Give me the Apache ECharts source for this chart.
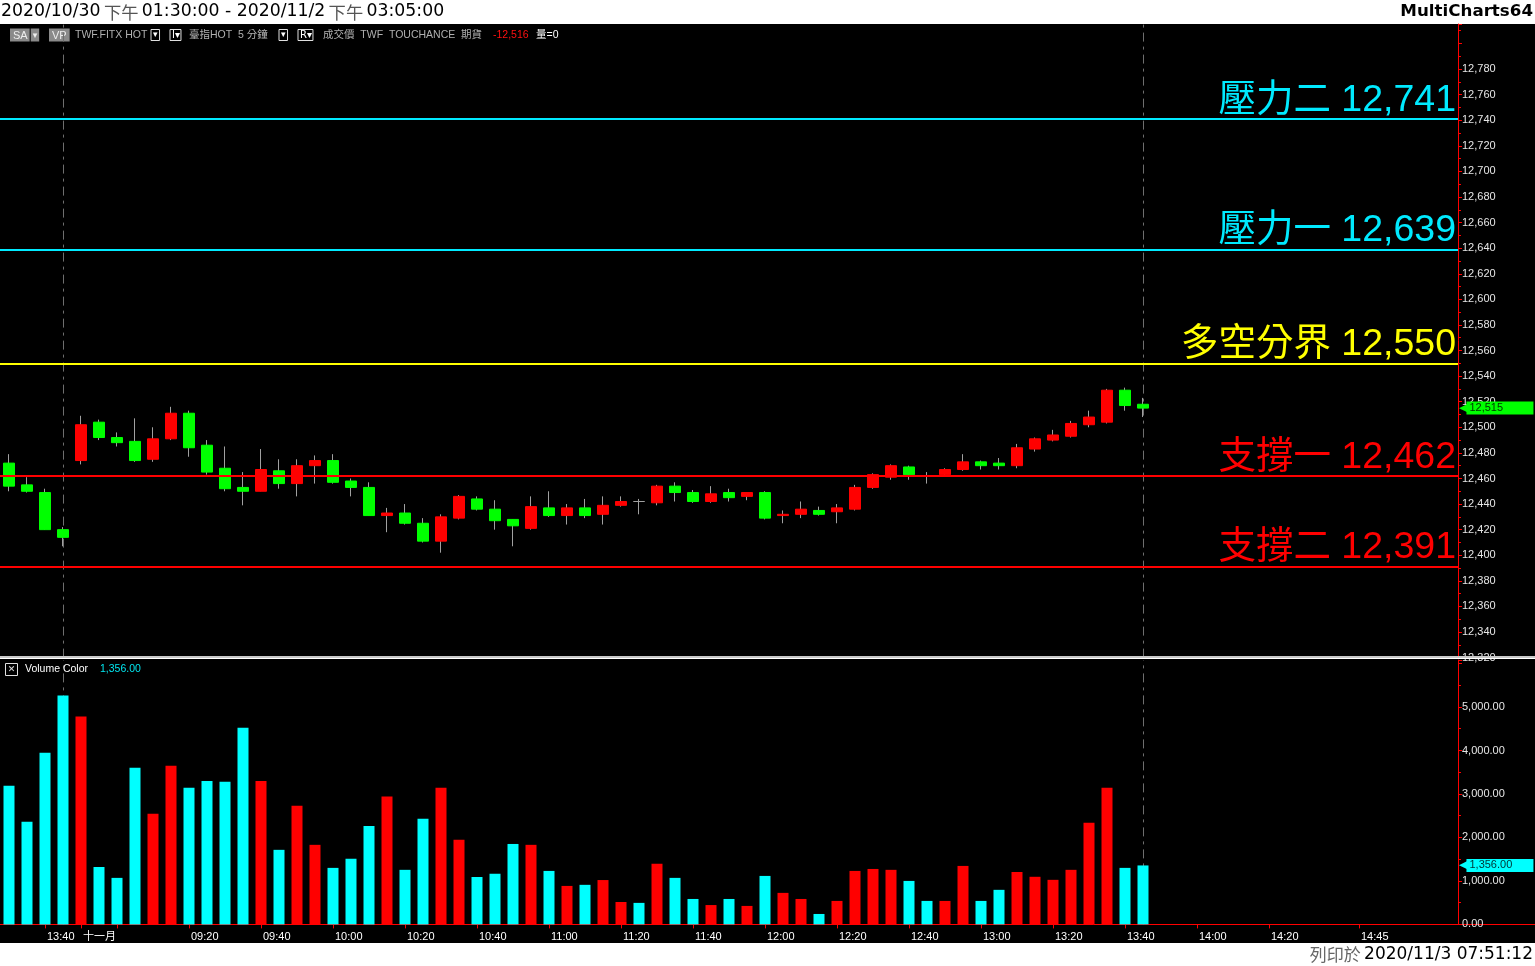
<!DOCTYPE html>
<html><head><meta charset="utf-8">
<script src="https://cdn.jsdelivr.net/npm/echarts@6/dist/echarts.min.js"></script>
<style>html,body{margin:0;padding:0;background:#000;overflow:hidden}#c{width:1535px;height:966px;}</style>
</head><body><div id="c"></div>
<script>
// ---------- data ----------
const categories = [
 '10/30 13:30','10/30 13:35','10/30 13:40','10/30 13:45',
 '11/2 08:50','11/2 08:55','11/2 09:00','11/2 09:05','11/2 09:10','11/2 09:15','11/2 09:20','11/2 09:25','11/2 09:30','11/2 09:35',
 '11/2 09:40','11/2 09:45','11/2 09:50','11/2 09:55','11/2 10:00','11/2 10:05','11/2 10:10','11/2 10:15','11/2 10:20','11/2 10:25',
 '11/2 10:30','11/2 10:35','11/2 10:40','11/2 10:45','11/2 10:50','11/2 10:55','11/2 11:00','11/2 11:05','11/2 11:10','11/2 11:15',
 '11/2 11:20','11/2 11:25','11/2 11:30','11/2 11:35','11/2 11:40','11/2 11:45','11/2 11:50','11/2 11:55','11/2 12:00','11/2 12:05',
 '11/2 12:10','11/2 12:15','11/2 12:20','11/2 12:25','11/2 12:30','11/2 12:35','11/2 12:40','11/2 12:45','11/2 12:50','11/2 12:55',
 '11/2 13:00','11/2 13:05','11/2 13:10','11/2 13:15','11/2 13:20','11/2 13:25','11/2 13:30','11/2 13:35','11/2 13:40','11/2 13:45',
 '11/2 13:50','11/2 13:55','11/2 14:00','11/2 14:05','11/2 14:10','11/2 14:15','11/2 14:20','11/2 14:25','11/2 14:30','11/2 14:35',
 '11/2 14:40','11/2 14:45','11/2 14:50','11/2 14:55','11/2 15:00','11/2 15:05','11/2 15:10'
];
const opens  = [12472,12455,12449,12420,12474,12504,12492,12489,12475,12491,12511,12486,12468,12453,12450,12466,12456,12470,12474,12458,12453,12431,12433,12425,12411,12429,12444,12436,12428,12421,12437,12431,12437,12432,12439,12442,12441,12454,12449,12442,12449,12446,12449,12431,12432,12435,12434,12436,12453,12461,12469,12462,12463,12467,12473,12472,12470,12483,12490,12493,12502,12504,12529,12518];
const highs  = [12479,12461,12452,12422,12509,12506,12496,12507,12500,12516,12513,12490,12485,12465,12483,12475,12475,12478,12479,12460,12457,12437,12440,12429,12432,12447,12446,12443,12428,12446,12450,12440,12444,12446,12446,12444,12455,12457,12451,12454,12452,12449,12450,12435,12442,12438,12440,12455,12464,12471,12470,12465,12468,12479,12474,12476,12487,12492,12498,12505,12513,12530,12531,12523];
const lows   = [12450,12449,12420,12407,12471,12490,12485,12473,12473,12490,12477,12463,12450,12439,12450,12452,12446,12456,12456,12446,12431,12418,12424,12410,12402,12428,12435,12420,12407,12420,12430,12424,12429,12424,12438,12432,12439,12442,12441,12441,12442,12443,12428,12425,12429,12431,12425,12435,12452,12459,12459,12456,12462,12466,12467,12467,12468,12481,12489,12492,12500,12503,12513,12508];
const closes = [12454,12450,12420,12414,12502,12492,12488,12474,12491,12511,12484,12465,12452,12450,12467,12456,12470,12474,12457,12453,12431,12433,12425,12411,12430,12446,12436,12427,12423,12438,12431,12437,12431,12439,12442,12442,12454,12449,12442,12448,12445,12449,12429,12432,12436,12432,12437,12453,12463,12470,12463,12462,12467,12473,12470,12470,12484,12491,12494,12503,12508,12529,12517,12515];
const volumes = [3190,2360,3950,5265,4780,1320,1070,3600,2545,3650,3140,3300,3280,4525,3300,1715,2730,1830,1300,1510,2265,2940,1255,2430,3145,1945,1090,1165,1850,1830,1230,885,910,1020,515,495,1395,1070,585,445,585,425,1115,725,585,240,540,1230,1275,1255,1000,540,540,1345,540,795,1205,1095,1025,1255,2335,3145,1300,1356];
const levelNames  = ['壓力二','壓力一','多空分界','支撐一','支撐二'];
const levelValues = [12741,12639,12550,12462,12391];
const sessionEndCats = ['10/30 13:45','11/2 13:45'];
const xLabelCats  = ['10/30 13:40','11/2 08:50','11/2 09:20','11/2 09:40','11/2 10:00','11/2 10:20','11/2 10:40','11/2 11:00','11/2 11:20','11/2 11:40','11/2 12:00','11/2 12:20','11/2 12:40','11/2 13:00','11/2 13:20','11/2 13:40','11/2 14:00','11/2 14:20','11/2 14:45'];
const xLabelTexts = ['13:40','十一月','09:20','09:40','10:00','10:20','10:40','11:00','11:20','11:40','12:00','12:20','12:40','13:00','13:20','13:40','14:00','14:20','14:45'];
const xTickOnlyCats = ['11/2 09:00'];
const priceTicks = {min:12320, max:12815.2, interval:20};
const volTicks = {min:0, max:6081, interval:1000};

// ---------- styles ----------
const UP='#ff0000', DOWN='#00ff00', DOJI='#a0a0a0', WICK='#a0a0a0', VUP='#ff0000', VDOWN='#00ffff';
const levelColors = ['#00eaff','#00eaff','#ffff00','#ff0000','#ff0000'];
const AX='#ff0000';
const FONT="'Liberation Sans','Noto Sans CJK TC',sans-serif";
const TFONT="'DejaVu Sans','Noto Sans CJK TC',sans-serif";
const fmt = v => v.toLocaleString('en-US');
const fmt2 = v => v.toLocaleString('en-US',{minimumFractionDigits:2,maximumFractionDigits:2});

const bodyData = opens.map((o,i)=>{
  const c = closes[i];
  const col = c>o?UP:(c<o?DOWN:DOJI);
  return {value:[o,c,Math.min(o,c),Math.max(o,c)], itemStyle:{color:col,color0:col,borderColor:col,borderColor0:col}};
});
const wickData = opens.map((o,i)=>[o,closes[i],lows[i],highs[i]]);
const volData = volumes.map((v,i)=>({value:v, itemStyle:{color: closes[i]>opens[i]?VUP:VDOWN}}));
const labelMap = {}; xLabelCats.forEach((c,i)=>labelMap[c]=xLabelTexts[i]);
const tickSet = new Set(xLabelCats.concat(xTickOnlyCats));
const lastPrice = closes[closes.length-1];
const lastVol = volumes[volumes.length-1];

const dashStyle = {color:'#6e6e6e', width:1, type:[9,5,3,5]};
const dashItems = () => sessionEndCats.map(c=>({xAxis:c, lineStyle:dashStyle, label:{show:false}}));
const hiddenLine = {color:'rgba(0,0,0,0)', width:1, opacity:1};

const levelLines = levelValues.map((v,i)=>({
  yAxis:v,
  lineStyle:{color:levelColors[i], width:2, type:'solid'},
  label:{show:true, position:'insideEndTop', distance:[2,0], formatter: levelNames[i]+' '+fmt(v),
    color:levelColors[i], fontSize:37.5, fontFamily:FONT, fontWeight:'normal'}
}));
const markerLabel = (text, col, txtCol) => ({show:true, position:'end', distance:1, formatter:'{a|◀}{b|'+text+'}',
    rich:{a:{color:col, fontSize:11, fontFamily:TFONT, padding:[0,-1,0,0]},
          b:{backgroundColor:col, color:txtCol, fontSize:11, fontFamily:FONT, width:64, height:13, lineHeight:13, padding:[0,0,0,3]}}});
const priceMarker = {yAxis:lastPrice, lineStyle:hiddenLine, label:markerLabel(fmt(lastPrice),'#00ff00','#003300')};
const volMarker = {yAxis:lastVol, lineStyle:hiddenLine, label:markerLabel(fmt2(lastVol),'#00ffff','#003333')};

const chart = echarts.init(document.getElementById('c'), null, {renderer:'canvas'});
const option = {
  backgroundColor:'#000',
  animation:false,
  grid:[
    {left:0, top:24, width:1458, height:633.6, containLabel:false},
    {left:0, top:660, width:1458, height:264.4, containLabel:false}
  ],
  xAxis:[
    {type:'category', gridIndex:0, data:categories, boundaryGap:true,
     axisLine:{show:false}, axisTick:{show:false}, axisLabel:{show:false}, splitLine:{show:false}},
    {type:'category', gridIndex:1, data:categories, boundaryGap:true,
     axisLine:{show:true, lineStyle:{color:AX, width:1}},
     axisTick:{show:true, alignWithLabel:true, length:4, lineStyle:{color:AX},
       interval:(idx,val)=>tickSet.has(val)},
     axisLabel:{show:true, color:'#ffffff', fontSize:11, fontFamily:FONT, margin:7, align:'left', padding:[0,0,0,2],
       interval:(idx,val)=>labelMap[val]!==undefined,
       formatter:(val)=>labelMap[val]||''},
     splitLine:{show:false}}
  ],
  yAxis:[
    {type:'value', gridIndex:0, position:'right', min:priceTicks.min, max:priceTicks.max, interval:priceTicks.interval,
     showMinLabel:false, showMaxLabel:false,
     axisLine:{show:true, lineStyle:{color:AX, width:1}},
     axisTick:{show:true, length:4, lineStyle:{color:AX}},
     minorTick:{show:true, splitNumber:2, length:3, lineStyle:{color:AX}},
     splitLine:{show:false}, minorSplitLine:{show:false},
     axisLabel:{color:'#e6e6e6', fontSize:11, fontFamily:FONT, margin:4,
       formatter:v=> v>12790 ? '' : fmt(v)}},
    {type:'value', gridIndex:1, position:'right', min:volTicks.min, max:volTicks.max, interval:volTicks.interval,
     showMaxLabel:false,
     axisLine:{show:true, lineStyle:{color:AX, width:1}},
     axisTick:{show:true, length:4, lineStyle:{color:AX}},
     minorTick:{show:true, splitNumber:2, length:3, lineStyle:{color:AX}},
     splitLine:{show:false},
     axisLabel:{color:'#e6e6e6', fontSize:11, fontFamily:FONT, margin:4,
       formatter:v=> v>5500 ? '' : fmt2(v)}}
  ],
  series:[
    {type:'candlestick', name:'wick', xAxisIndex:0, yAxisIndex:0, data:wickData, barWidth:1, z:2, silent:true,
     itemStyle:{color:WICK,color0:WICK,borderColor:WICK,borderColor0:WICK,borderWidth:1},
     markLine:{z:1, silent:true, symbol:'none', animation:false, data:dashItems()}},
    {type:'candlestick', name:'body', xAxisIndex:0, yAxisIndex:0, data:bodyData, barWidth:12, z:3,
     itemStyle:{borderWidth:1}, silent:true,
     markLine:{z:6, silent:true, symbol:'none', animation:false, data:levelLines.concat([priceMarker])}},
    {type:'bar', name:'vol', xAxisIndex:1, yAxisIndex:1, data:volData, barWidth:11, z:2, silent:true,
     markLine:{z:1, silent:true, symbol:'none', animation:false, data:dashItems().concat([volMarker])}}
  ],
  graphic:[
    {type:'rect', shape:{x:0,y:0,width:1535,height:24}, style:{fill:'#ffffff'}, silent:true},
    {type:'rect', shape:{x:0,y:943,width:1535,height:23}, style:{fill:'#ffffff'}, silent:true},
    {type:'rect', shape:{x:0,y:656,width:1535,height:2}, style:{fill:'#c8c8c8'}, silent:true, z:10},
    {type:'rect', shape:{x:0,y:658,width:1535,height:1}, style:{fill:'#ffffff'}, silent:true, z:10},
    {type:'line', shape:{x1:1458,y1:924.5,x2:1535,y2:924.5}, style:{stroke:AX, lineWidth:1}, silent:true},
    {type:'text', x:1, y:12, silent:true, style:{
      text:'{d|2020/10/30} {g|下午} {d|01:30:00 - 2020/11/2} {g|下午} {d|03:05:00}',
      verticalAlign:'middle', align:'left',
      rich:{d:{fontSize:17.3, fontFamily:TFONT, fill:'#000'}, g:{fontSize:17.3, fontFamily:"'Noto Sans CJK TC',sans-serif", fill:'#555'}}}},
    {type:'text', x:1533, y:12, silent:true, style:{text:'MultiCharts64', align:'right', verticalAlign:'middle',
      fontSize:16.7, fontWeight:'bold', fontFamily:TFONT, fill:'#000'}},
    {type:'text', x:1533, y:955, silent:true, style:{
      text:'{g|列印於} {d|2020/11/3 07:51:12}', align:'right', verticalAlign:'middle',
      rich:{d:{fontSize:17, fontFamily:TFONT, fill:'#000'}, g:{fontSize:17, fontFamily:"'Noto Sans CJK TC',sans-serif", fill:'#666'}}}},
    // legend row
    {type:'text', x:10, y:35, silent:true, style:{text:'{b|SA}{s|▾}', verticalAlign:'middle',
      rich:{b:{backgroundColor:'#8a8a8a', fill:'#eee', fontSize:11, fontFamily:FONT, padding:[1,3,0,3], height:12},
            s:{backgroundColor:'#8a8a8a', fill:'#eee', fontSize:9, fontFamily:TFONT, padding:[1,2,0,2], height:12, borderColor:'#000', borderWidth:1}}}},
    {type:'text', x:49, y:35, silent:true, style:{text:'{b|VP}', verticalAlign:'middle',
      rich:{b:{backgroundColor:'#8a8a8a', fill:'#eee', fontSize:11, fontFamily:FONT, padding:[1,3,0,3], height:12}}}},
    {type:'text', x:75, y:35, silent:true, style:{text:'TWF.FITX HOT', verticalAlign:'middle', fontSize:10.5, fontFamily:FONT, fill:'#b0b0b0'}},
    {type:'text', x:151, y:35, silent:true, style:{text:'{o|▾}', verticalAlign:'middle',
      rich:{o:{borderColor:'#e0e0e0', borderWidth:1, fill:'#fff', fontSize:9, fontFamily:TFONT, padding:[0,2,0,2], height:11}}}},
    {type:'text', x:170, y:35, silent:true, style:{text:'{o|I▾}', verticalAlign:'middle',
      rich:{o:{borderColor:'#e0e0e0', borderWidth:1, fill:'#fff', fontSize:10, fontFamily:TFONT, padding:[0,1,0,2], height:11}}}},
    {type:'text', x:189, y:35, silent:true, style:{text:'臺指HOT  5 分鐘', verticalAlign:'middle', fontSize:10.5, fontFamily:FONT, fill:'#b0b0b0'}},
    {type:'text', x:279, y:35, silent:true, style:{text:'{o|▾}', verticalAlign:'middle',
      rich:{o:{borderColor:'#e0e0e0', borderWidth:1, fill:'#fff', fontSize:9, fontFamily:TFONT, padding:[0,2,0,2], height:11}}}},
    {type:'text', x:298, y:35, silent:true, style:{text:'{o|R▾}', verticalAlign:'middle',
      rich:{o:{borderColor:'#e0e0e0', borderWidth:1, fill:'#fff', fontSize:10, fontFamily:TFONT, padding:[0,1,0,2], height:11}}}},
    {type:'text', x:323, y:35, silent:true, style:{text:'成交價  TWF  TOUCHANCE  期貨', verticalAlign:'middle', fontSize:10.5, fontFamily:FONT, fill:'#b0b0b0'}},
    {type:'text', x:493, y:35, silent:true, style:{text:'-12,516', verticalAlign:'middle', fontSize:10.5, fontFamily:FONT, fill:'#ff1010'}},
    {type:'text', x:536, y:35, silent:true, style:{text:'量=0', verticalAlign:'middle', fontSize:10.5, fontFamily:FONT, fill:'#ffffff'}},
    // volume legend
    {type:'rect', shape:{x:5.5,y:663.5,width:12,height:12}, style:{fill:'#000', stroke:'#e0e0e0', lineWidth:1}, silent:true, z:11},
    {type:'text', x:11.5, y:669.5, silent:true, z:12, style:{text:'✕', align:'center', verticalAlign:'middle', fontSize:9, fontFamily:TFONT, fill:'#e0e0e0'}},
    {type:'text', x:25, y:669, silent:true, z:12, style:{text:'Volume Color', verticalAlign:'middle', fontSize:10.5, fontFamily:FONT, fill:'#ffffff'}},
    {type:'text', x:100, y:669, silent:true, z:12, style:{text:fmt2(lastVol), verticalAlign:'middle', fontSize:10.5, fontFamily:FONT, fill:'#00e5ee'}}
  ]
};
chart.setOption(option);
</script>
</body></html>
